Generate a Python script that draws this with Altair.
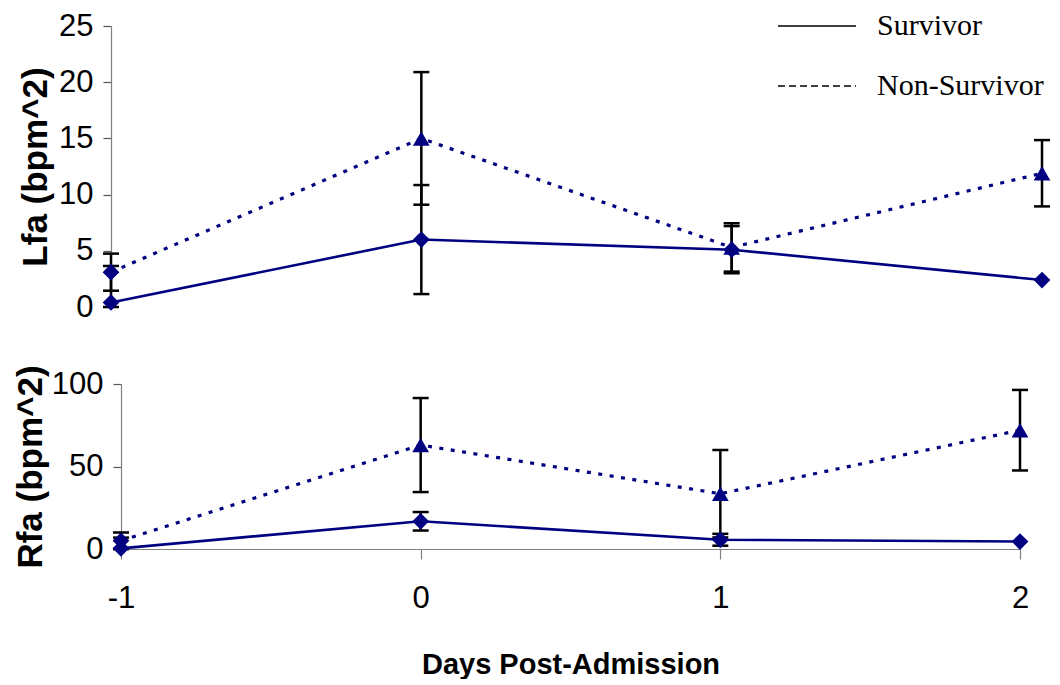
import altair as alt
import pandas as pd

# ---------------- data ----------------
days = [-1, 0, 1, 2]
groups = ["Survivor", "Non-Survivor"]

lfa_survivor = [0.4, 6.0, 5.1, 2.4]
lfa_survivor_err = [3.25, 4.85, 2.1, 0.0]
lfa_nonsurvivor = [3.1, 15.0, 5.3, 11.9]
lfa_nonsurvivor_err = [1.65, 5.9, 2.15, 2.95]

rfa_survivor = [0.4, 16.8, 5.6, 4.5]
rfa_survivor_err = [6.5, 5.6, 3.6, 0.0]
rfa_nonsurvivor = [5.0, 63.0, 33.5, 72.0]
rfa_nonsurvivor_err = [5.0, 28.5, 26.5, 24.4]

survivor_markers = ["diamond", "diamond", "diamond", "diamond"]
nonsurvivor_markers = ["diamond", "triangle-up", "triangle-up", "triangle-up"]

lfa_ticks = [0, 5, 10, 15, 20, 25]
rfa_ticks = [0, 50, 100]

NAVY = "#000080"
FONT = "Liberation Sans"


def build_df(s_vals, s_err, n_vals, n_err):
    rows = []
    for d, v, e, m in zip(days, s_vals, s_err, survivor_markers):
        rows.append(dict(day=d, value=v, err=e, group=groups[0], marker=m))
    for d, v, e, m in zip(days, n_vals, n_err, nonsurvivor_markers):
        rows.append(dict(day=d, value=v, err=e, group=groups[1], marker=m))
    df = pd.DataFrame(rows)
    df["lo"] = df["value"] - df["err"]
    df["hi"] = df["value"] + df["err"]
    return df


lfa_df = build_df(lfa_survivor, lfa_survivor_err, lfa_nonsurvivor, lfa_nonsurvivor_err)
rfa_df = build_df(rfa_survivor, rfa_survivor_err, rfa_nonsurvivor, rfa_nonsurvivor_err)


def panel(df, ymax, yticks, ytitle, xdomain, xaxis, yoffset, title_pad, width, height, legend_layer=None):
    xs = alt.Scale(domain=xdomain, nice=False, zero=False)
    ys = alt.Scale(domain=[0, ymax], nice=False, zero=True, clamp=True)
    yaxis = alt.Axis(values=yticks, title=ytitle, offset=yoffset, tickSize=8,
                     labelPadding=10, titlePadding=title_pad, labelFontSize=31,
                     titleFontSize=35, titleFontWeight="bold",
                     domainColor="#808080", tickColor="#555555", domainWidth=1.2,
                     tickWidth=1.2)
    X = alt.X("day:Q", scale=xs, axis=xaxis)
    base = alt.Chart(df)
    err_bar = base.mark_rule(color="black", strokeWidth=2.5).encode(
        x=X, y=alt.Y("lo:Q", scale=ys, axis=yaxis), y2="hi:Q")
    has_err = alt.datum.err > 0
    cap_lo = base.transform_filter(has_err).mark_tick(
        color="black", orient="horizontal", size=16, thickness=2.5, opacity=1
    ).encode(x=X, y=alt.Y("lo:Q", scale=ys, axis=yaxis))
    cap_hi = base.transform_filter(has_err).mark_tick(
        color="black", orient="horizontal", size=16, thickness=2.5, opacity=1
    ).encode(x=X, y=alt.Y("hi:Q", scale=ys, axis=yaxis))
    Y = alt.Y("value:Q", scale=ys, axis=yaxis)
    line_s = base.transform_filter(alt.datum.group == groups[0]).mark_line(
        color=NAVY, strokeWidth=2.6).encode(x=X, y=Y, order="day:Q")
    line_n = base.transform_filter(alt.datum.group == groups[1]).mark_line(
        color=NAVY, strokeWidth=3.2, strokeDash=[4, 7.5]).encode(x=X, y=Y, order="day:Q")
    pts = base.mark_point(filled=True, color=NAVY, opacity=1, size=280).encode(
        x=X, y=Y, shape=alt.Shape("marker:N", scale=None))
    layers = [err_bar, cap_lo, cap_hi, line_s, line_n, pts]
    if legend_layer is not None:
        layers.append(legend_layer)
    return alt.layer(*layers).properties(width=width, height=height)


# legend-only layer: rows with no coordinates, carries the Survivor / Non-Survivor key
legend_df = pd.DataFrame({"group": groups, "day": [None, None], "value": [None, None]})
legend_layer = alt.Chart(legend_df).mark_line(color="black", strokeWidth=1.4).encode(
    x=alt.X("day:Q"),
    y=alt.Y("value:Q"),
    strokeDash=alt.StrokeDash(
        "group:N",
        scale=alt.Scale(domain=groups, range=[[1, 0], [7, 4]]),
        legend=alt.Legend(orient="none", legendX=656, legendY=-40, title=None,
                          symbolType="stroke", symbolSize=6084, symbolStrokeWidth=1.4,
                          symbolStrokeColor="black", labelFont="Liberation Serif",
                          labelFontSize=30, labelColor="black", labelOffset=20,
                          rowPadding=5, labelLimit=400),
    ),
)

top = panel(lfa_df, 25, lfa_ticks, "Lfa (bpm^2)", [-1 + 10 / 310.3, 2], None, 10, 5,
            921, 281, legend_layer)

bottom_xaxis = alt.Axis(values=days, title="Days Post-Admission", tickSize=10,
                        labelPadding=24, titlePadding=37, labelFontSize=31,
                        labelExpr="'' + datum.value", labelFlush=False,
                        titleFontSize=29, titleFontWeight="bold",
                        domainColor="#808080", tickColor="#808080", domainWidth=1.2,
                        tickWidth=1.2)
bottom = panel(rfa_df, 100, rfa_ticks, "Rfa (bpm^2)", [-1, 2], bottom_xaxis, 0, 3,
               899, 165)

chart = alt.vconcat(top, bottom, spacing=42).resolve_scale(
    x="independent", y="independent"
).properties(
    padding={"left": 5, "top": -22, "right": 0, "bottom": 0}
).configure_view(stroke=None).configure_axis(
    labelFont=FONT, titleFont=FONT, labelColor="black", titleColor="black", grid=False
)

chart.save("out.html", embed_options={"renderer": "svg", "actions": False})
